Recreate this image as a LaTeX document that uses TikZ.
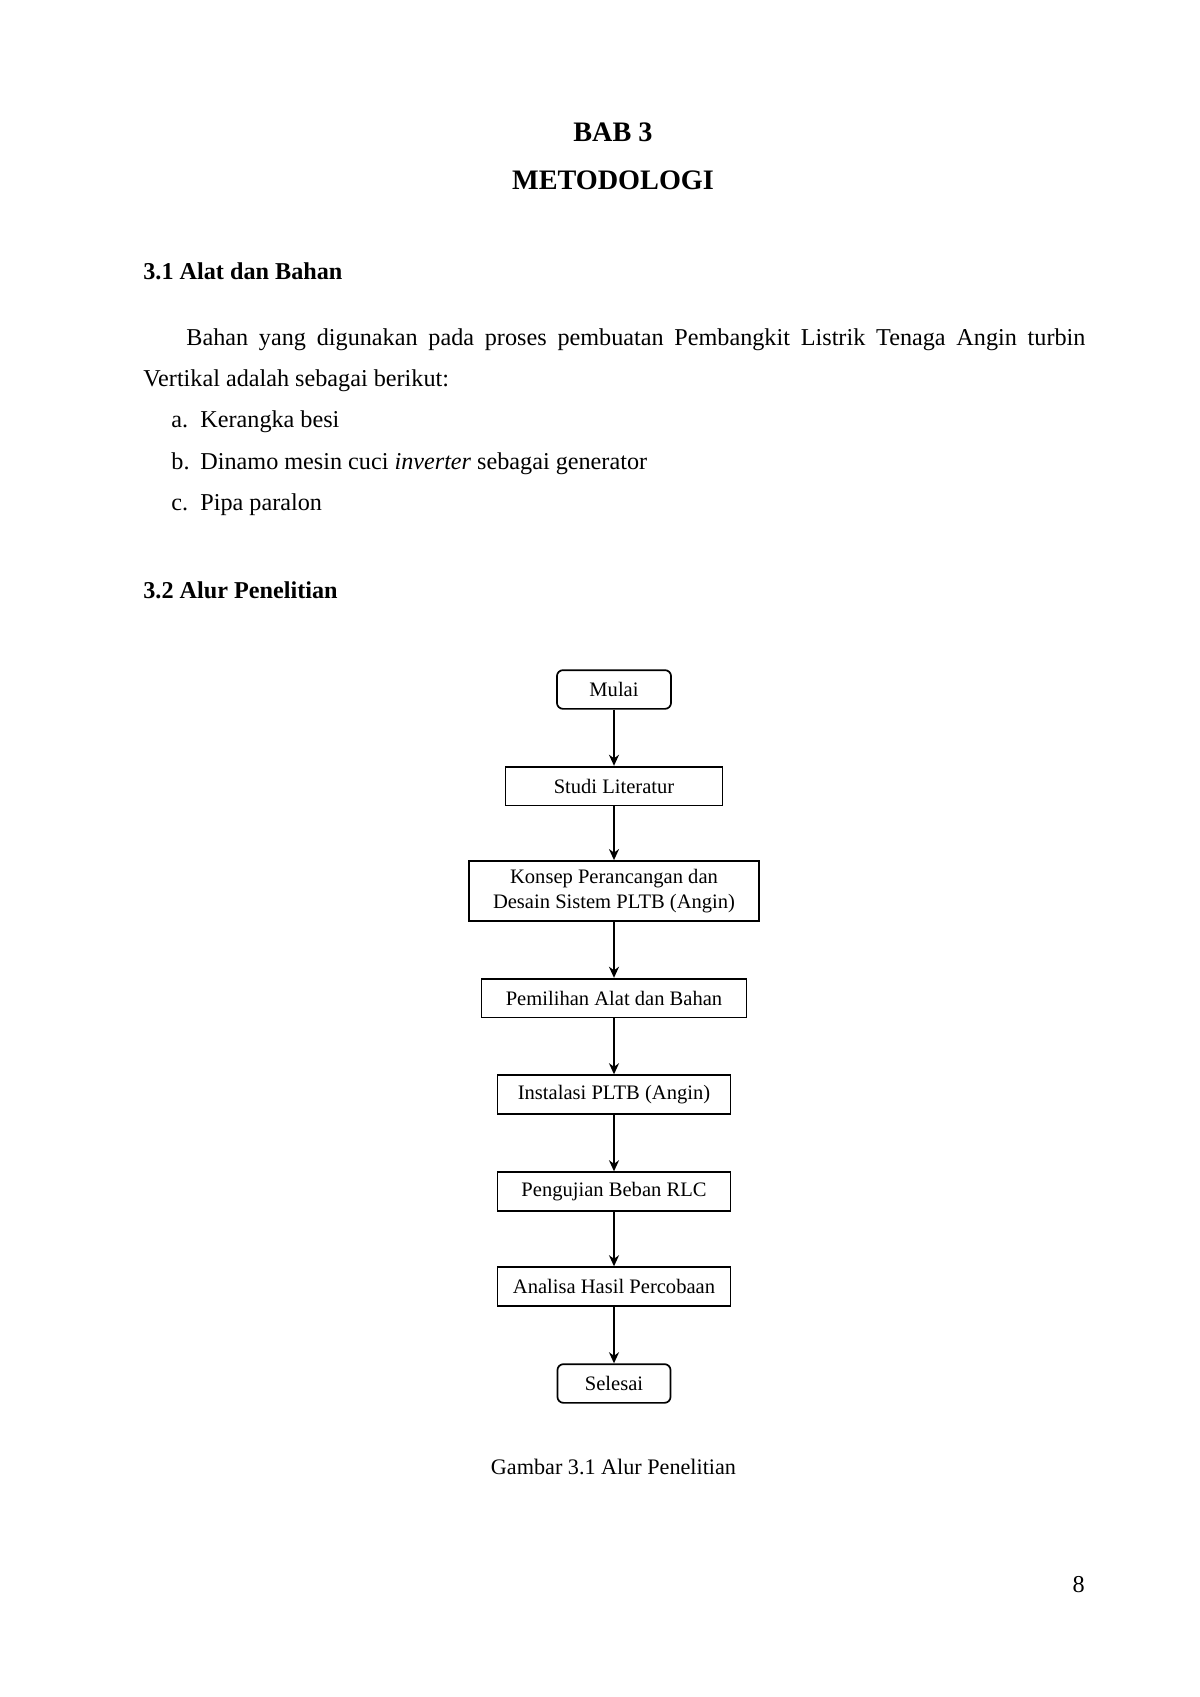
\documentclass[tikz,border=0pt]{standalone}
\usepackage{fontspec}
\setmainfont{Liberation Serif}
\usetikzlibrary{arrows.meta}
\begin{document}
\begin{tikzpicture}[x=0.49608pt,y=-0.49608pt,
  box/.style={draw=black, line width=0.85pt, minimum height=19.2pt, inner sep=0pt, font=\fontsize{10.2}{12.5}\selectfont, align=center},
  term/.style={box, rounded corners=3pt},
  arr/.style={-{Stealth[length=5.5pt,width=5pt]}, line width=0.75pt},
  body/.style={inner sep=0pt, font=\fontsize{12}{14}\selectfont},
  head/.style={inner sep=0pt, font=\fontsize{12}{14}\selectfont\bfseries},
  title/.style={inner sep=0pt, font=\fontsize{14}{16}\selectfont\bfseries}]
\useasboundingbox[fill=white] (0,0) rectangle (1200,1697);

% headings
\node[title, anchor=base] (bab) at (613,141) {BAB 3};
\node[title, anchor=base] (met) at (613,189) {METODOLOGI};
\node[head, anchor=base west] (h31) at (143,279) {3.1 Alat dan Bahan};

% paragraph
\node[body, anchor=base west] (p1) at (186,345) {\makebox[446pt][s]{Bahan yang digunakan pada proses pembuatan Pembangkit Listrik Tenaga Angin turbin}};
\node[body, anchor=base west] (p2) at (143,386) {Vertikal adalah sebagai berikut:};
\node[body, anchor=base west] (la) at (171,427) {a.};
\node[body, anchor=base west] (ta) at (200,427) {Kerangka besi};
\node[body, anchor=base west] (lb) at (171,469) {b.};
\node[body, anchor=base west] (tb) at (200,469) {Dinamo mesin cuci \textit{inverter} sebagai generator};
\node[body, anchor=base west] (lc) at (171,510) {c.};
\node[body, anchor=base west] (tc) at (200,510) {Pipa paralon};
\node[head, anchor=base west] (h32) at (143,598) {3.2 Alur Penelitian};

% flowchart
\node[term, minimum width=56.6pt] (mulai) at (614,689.5) {Mulai};
\node[box, minimum width=107.7pt] (studi) at (614,786) {Studi Literatur};
\node[box, minimum width=143.9pt, minimum height=29.8pt] (konsep) at (614,891) {Konsep Perancangan dan\\Desain Sistem PLTB (Angin)};
\node[box, minimum width=131.5pt] (pilih) at (614,998) {Pemilihan Alat dan Bahan};
\node[box, minimum width=115.6pt] (inst) at (614,1094.5) {Instalasi PLTB (Angin)};
\node[box, minimum width=115.6pt] (uji) at (614,1191.5) {Pengujian Beban RLC};
\node[box, minimum width=115.6pt] (anal) at (614,1286.5) {Analisa Hasil Percobaan};
\node[term, minimum width=56.1pt] (selesai) at (614,1383.5) {Selesai};

\draw[arr] (mulai) -- (studi);
\draw[arr] (studi) -- (konsep);
\draw[arr] (konsep) -- (pilih);
\draw[arr] (pilih) -- (inst);
\draw[arr] (inst) -- (uji);
\draw[arr] (uji) -- (anal);
\draw[arr] (anal) -- (selesai);

\node[inner sep=0pt, font=\fontsize{11}{13}\selectfont, anchor=base] (cap) at (613.5,1474) {Gambar 3.1 Alur Penelitian};
\node[body, anchor=base east] (pg) at (1085,1592) {8};
\end{tikzpicture}
\end{document}
